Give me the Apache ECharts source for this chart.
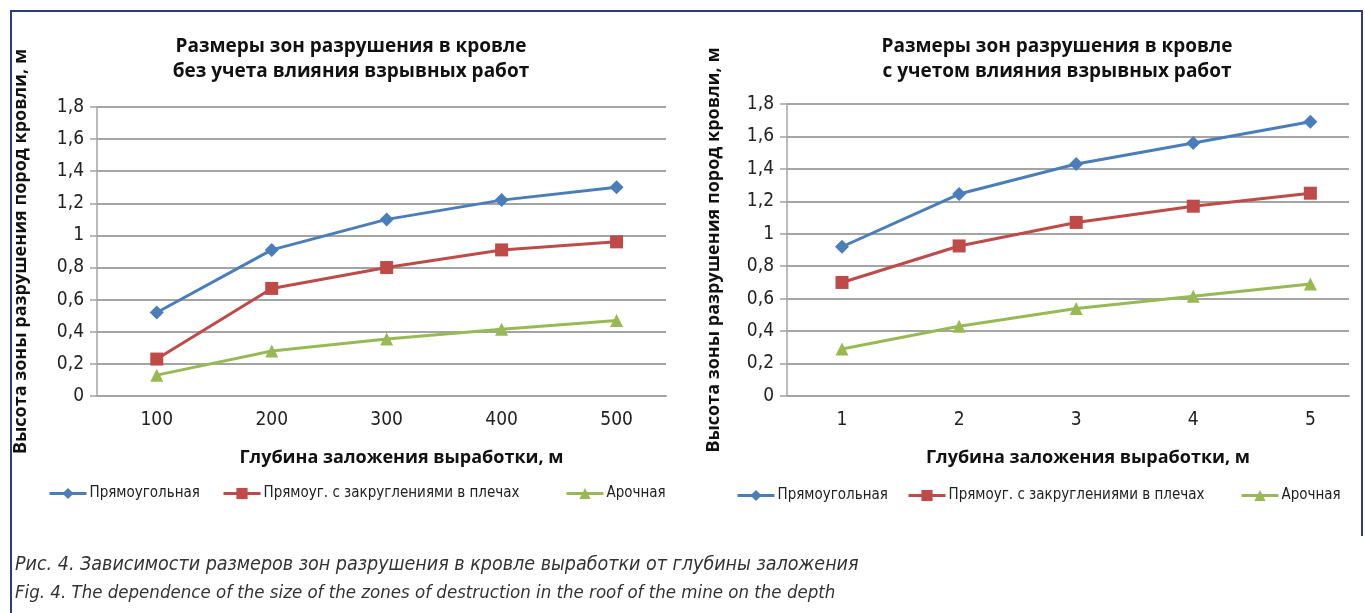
<!DOCTYPE html>
<html>
<head>
<meta charset="utf-8">
<script src="https://cdn.jsdelivr.net/npm/echarts@6/dist/echarts.min.js"></script>
<style>
  html, body { margin: 0; padding: 0; background: #ffffff; }
  #chart { width: 1365px; height: 613px; }
</style>
</head>
<body>
<div id="chart"></div>
<script>
// Depth values along the horizontal axes
const leftDepth = [100, 200, 300, 400, 500];
const rightDepth = [1, 2, 3, 4, 5];

// Vertical axis ticks (m)
const yTicks = [0, 0.2, 0.4, 0.6, 0.8, 1.0, 1.2, 1.4, 1.6, 1.8];

// Series names
const seriesNames = ['Прямоугольная', 'Прямоуг. с закруглениями в плечах', 'Арочная'];

// Without blasting
const leftRect = [0.52, 0.91, 1.10, 1.22, 1.30];
const leftRound = [0.23, 0.67, 0.80, 0.91, 0.96];
const leftArch = [0.13, 0.28, 0.355, 0.415, 0.47];

// With blasting
const rightRect = [0.92, 1.245, 1.43, 1.56, 1.69];
const rightRound = [0.70, 0.925, 1.07, 1.17, 1.25];
const rightArch = [0.29, 0.43, 0.54, 0.615, 0.69];

const titles = [
  'Размеры зон разрушения в кровле\nбез учета влияния взрывных работ',
  'Размеры зон разрушения в кровле\nс учетом влияния взрывных работ'
];
const yName = 'Высота зоны разрушения пород кровли, м';
const xName = 'Глубина заложения выработки, м';
const captionRu = 'Рис. 4. Зависимости размеров зон разрушения в кровле выработки от глубины заложения';
const captionEn = 'Fig. 4. The dependence of the size of the zones of destruction in the roof of the mine on the depth';

const colors = ['#4A7EBB', '#BE4B48', '#98B954'];
const symbols = ['diamond', 'rect', 'triangle'];
const symbolSizes = [14, 13, 13];

const NARROW = '"Liberation Sans Narrow", "DejaVu Sans Condensed", "Roboto", sans-serif';
const BOLD = '"Open Sans", "DejaVu Sans", sans-serif';
const GRID_COLOR = '#a4a4a4';

const chart = echarts.init(document.getElementById('chart'), null, { renderer: 'canvas' });

const pairs = (xs, ys) => xs.map((x, i) => [x, ys[i]]);

function makeSeries(idx, name, xs, ys, k) {
  return {
    type: 'line',
    name: name,
    xAxisIndex: idx,
    yAxisIndex: idx,
    data: pairs(xs, ys),
    symbol: symbols[k],
    symbolSize: symbolSizes[k],
    showAllSymbol: true,
    lineStyle: { color: colors[k], width: 3 },
    itemStyle: { color: colors[k] },
    emphasis: { disabled: true },
    z: 3 + k
  };
}

function xAxis(idx, ticks, min, max) {
  return {
    type: 'value',
    gridIndex: idx,
    min: min,
    max: max,
    name: xName,
    nameLocation: 'middle',
    nameGap: 53,
    nameTextStyle: { fontFamily: BOLD, fontWeight: 'bold', fontSize: 18, color: '#111', padding: [0, 0, 0, 40] },
    axisLine: { show: true, lineStyle: { color: GRID_COLOR, width: 2 } },
    axisTick: { show: false },
    splitLine: { show: false },
    axisLabel: {
      customValues: ticks,
      margin: 15,
      fontFamily: NARROW,
      fontSize: 19,
      color: '#222'
    }
  };
}

function yAxis(idx, gap) {
  return {
    type: 'value',
    gridIndex: idx,
    min: 0,
    max: 1.8,
    interval: 0.2,
    name: yName,
    nameLocation: 'middle',
    nameGap: gap,
    nameTextStyle: { fontFamily: BOLD, fontWeight: 'bold', fontSize: 18, color: '#111' },
    axisLine: { show: true, lineStyle: { color: GRID_COLOR, width: 1.5 } },
    axisTick: { show: true, length: 7, lineStyle: { color: GRID_COLOR, width: 1.5 } },
    splitLine: { show: true, lineStyle: { color: GRID_COLOR, width: 2 } },
    axisLabel: {
      customValues: yTicks,
      margin: 13,
      fontFamily: NARROW,
      fontSize: 19,
      color: '#222',
      formatter: v => String(Math.round(v * 10) / 10).replace('.', ',')
    }
  };
}

function legend(name, left, top) {
  return {
    data: [name],
    left: left,
    top: top,
    itemWidth: 37,
    itemHeight: 14,
    itemGap: 4,
    selectedMode: false,
    lineStyle: { width: 3 },
    textStyle: { fontFamily: NARROW, fontSize: 15, color: '#222', padding: [0, 0, 0, -2] }
  };
}

const option = {
  animation: false,
  backgroundColor: '#ffffff',
  title: [
    {
      text: titles[0], left: 346, top: 29, textAlign: 'center',
      textStyle: { fontFamily: BOLD, fontWeight: 'bold', fontSize: 19, lineHeight: 25, color: '#111' }
    },
    {
      text: titles[1], left: 1052, top: 29, textAlign: 'center',
      textStyle: { fontFamily: BOLD, fontWeight: 'bold', fontSize: 19, lineHeight: 25, color: '#111' }
    },
    {
      text: captionRu, left: 10, top: 550,
      textStyle: { fontFamily: NARROW, fontStyle: 'italic', fontWeight: 'normal', fontSize: 19.5, color: '#333' }
    },
    {
      text: captionEn, left: 10, top: 579,
      textStyle: { fontFamily: NARROW, fontStyle: 'italic', fontWeight: 'normal', fontSize: 18.5, color: '#333' }
    }
  ],
  legend: [
    legend(seriesNames[0], 43, 481),
    legend(seriesNames[1], 217, 481),
    legend(seriesNames[2], 560, 481),
    legend(seriesNames[0], 731, 483),
    legend(seriesNames[1], 902, 483),
    legend(seriesNames[2], 1235, 483)
  ],
  grid: [
    { left: 97, top: 107, width: 569, height: 289 },
    { left: 787, top: 104, width: 562, height: 292 }
  ],
  xAxis: [
    xAxis(0, leftDepth, 48, 543),
    xAxis(1, rightDepth, 0.53, 5.33)
  ],
  yAxis: [
    yAxis(0, 67),
    yAxis(1, 64)
  ],
  series: [
    makeSeries(0, seriesNames[0], leftDepth, leftRect, 0),
    makeSeries(0, seriesNames[1], leftDepth, leftRound, 1),
    makeSeries(0, seriesNames[2], leftDepth, leftArch, 2),
    makeSeries(1, seriesNames[0], rightDepth, rightRect, 0),
    makeSeries(1, seriesNames[1], rightDepth, rightRound, 1),
    makeSeries(1, seriesNames[2], rightDepth, rightArch, 2)
  ],
  graphic: [
    {
      type: 'polyline',
      shape: { points: [[11, 613], [11, 11], [1362, 11], [1362, 536]] },
      style: { stroke: '#2E3C7E', lineWidth: 2, fill: null },
      silent: true
    }
  ]
};

chart.setOption(option);
</script>
</body>
</html>
